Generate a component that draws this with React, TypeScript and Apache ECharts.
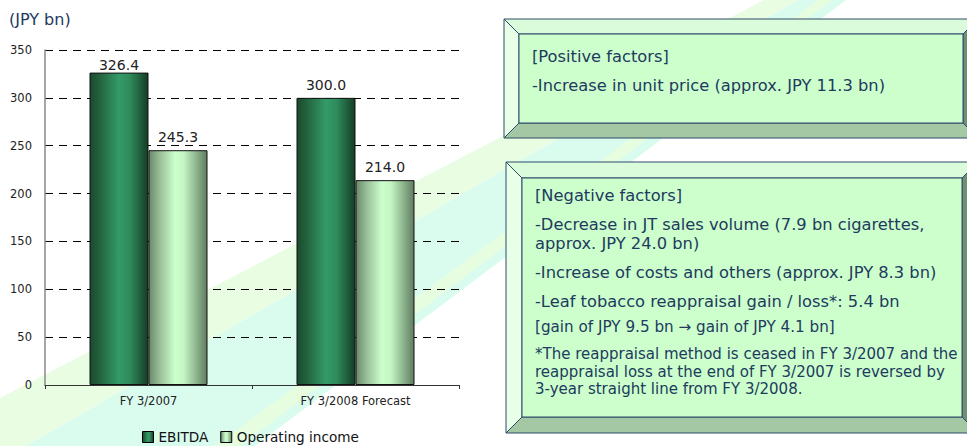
import React, { useEffect, useRef } from 'react';
import * as echarts from 'echarts';

const categories = ['FY 3/2007', 'FY 3/2008 Forecast'];
const seriesNames = ['EBITDA', 'Operating income'];
const ebitda = [326.4, 300.0];
const operatingIncome = [245.3, 214.0];
const yMin = 0;
const yMax = 350;
const yStep = 50;
const unitLabel = '(JPY bn)';

const positiveLines = [
  '[Positive factors]',
  '-Increase in unit price (approx. JPY 11.3 bn)',
];
const negativeLines = [
  '[Negative factors]',
  '-Decrease in JT sales volume (7.9 bn cigarettes,',
  'approx. JPY 24.0 bn)',
  '-Increase of costs and others (approx. JPY 8.3 bn)',
  '-Leaf tobacco reappraisal gain / loss*: 5.4 bn',
  '[gain of JPY 9.5 bn \u2192 gain of JPY 4.1 bn]',
  '*The reappraisal method is ceased in FY 3/2007 and the',
  'reappraisal loss at the end of FY 3/2007 is reversed by',
  '3-year straight line from FY 3/2008.',
];

const FONT = '"DejaVu Sans", Verdana, sans-serif';
const TEXT_COLOR = '#223a5e';
const OUTLINE = '#2e4a6b';

function bevelBox(x0: number, y0: number, x1: number, y1: number, b: number) {
  const stroke = { stroke: OUTLINE, lineWidth: 1 };
  const poly = (pts: number[][], fill: string) => ({
    type: 'polygon',
    z: 10,
    shape: { points: pts },
    style: { fill, ...stroke },
  });
  return [
    poly([[x0, y0], [x1, y0], [x1 - b, y0 + b], [x0 + b, y0 + b]], '#dafcda'),
    poly([[x0, y0], [x0 + b, y0 + b], [x0 + b, y1 - b], [x0, y1]], '#e8ffe8'),
    poly([[x0, y1], [x0 + b, y1 - b], [x1 - b, y1 - b], [x1, y1]], '#a4c8a4'),
    poly([[x1, y0], [x1, y1], [x1 - b, y1 - b], [x1 - b, y0 + b]], '#6e8f74'),
    {
      type: 'rect',
      z: 10,
      shape: { x: x0 + b, y: y0 + b, width: x1 - x0 - 2 * b, height: y1 - y0 - 2 * b },
      style: { fill: '#ccffcc', ...stroke },
    },
  ];
}

function textLine(text: string, x: number, y: number, size: number) {
  return {
    type: 'text',
    z: 11,
    x,
    y,
    style: {
      text,
      fill: TEXT_COLOR,
      fontSize: size,
      fontFamily: FONT,
      verticalAlign: 'middle',
      align: 'left',
    },
  };
}

export default function App() {
  const ref = useRef<HTMLDivElement>(null);

  useEffect(() => {
    if (!ref.current) return;
    const chart = echarts.init(ref.current, null, { renderer: 'svg' });

    const ebitdaGrad = new echarts.graphic.LinearGradient(0, 0, 1, 0, [
      { offset: 0, color: '#1a4a2e' },
      { offset: 0.15, color: '#22603c' },
      { offset: 0.5, color: '#349a68' },
      { offset: 0.68, color: '#2f8c5c' },
      { offset: 1, color: '#153d26' },
    ]);
    const opGrad = new echarts.graphic.LinearGradient(0, 0, 1, 0, [
      { offset: 0, color: '#6a8a6a' },
      { offset: 0.2, color: '#9cc29c' },
      { offset: 0.45, color: '#ccffcc' },
      { offset: 0.6, color: '#c4f5c4' },
      { offset: 1, color: '#5f7d60' },
    ]);

    const negSizes = [16.3, 16.3, 16.3, 16.3, 16.3, 15.2, 15, 15, 15];
    const negY = [195, 224, 243, 272, 301, 327, 354, 372, 389];

    const graphics: any[] = [
      {
        type: 'polygon',
        z: -5,
        silent: true,
        shape: { points: [[0, 398], [764, 0], [798, 0], [26, 446], [0, 446]] },
        style: { fill: '#e9fde3' },
      },
      {
        type: 'polygon',
        z: -5,
        silent: true,
        shape: { points: [[26, 446], [798, 0], [846, 0], [255, 446]] },
        style: { fill: '#dafcef' },
      },
      {
        type: 'polygon',
        z: -5,
        silent: true,
        shape: { points: [[215, 446], [240, 446], [832, 0], [818, 0]] },
        style: { fill: '#e6fde0' },
      },
      {
        type: 'text',
        z: 5,
        x: 9,
        y: 19,
        style: {
          text: unitLabel,
          fill: TEXT_COLOR,
          fontSize: 16,
          fontFamily: FONT,
          verticalAlign: 'middle',
        },
      },
      ...bevelBox(504, 19, 978, 138, 15),
      ...bevelBox(506, 162, 978, 433, 16),
      ...positiveLines.map((t, i) => textLine(t, 532, i === 0 ? 56 : 85, 16.3)),
      ...negativeLines.map((t, i) => textLine(t, 535, negY[i], negSizes[i])),
    ];

    chart.setOption({
      animation: false,
      backgroundColor: '#ffffff',
      textStyle: { fontFamily: FONT },
      grid: { left: 45, right: 508, top: 50, bottom: 61, containLabel: false },
      legend: {
        data: seriesNames,
        left: 142,
        top: 430,
        padding: 0,
        itemWidth: 11,
        itemHeight: 11,
        itemGap: 12,
        icon: 'rect',
        textStyle: { fontSize: 13.6, color: '#111', fontFamily: FONT },
        itemStyle: { borderColor: '#000', borderWidth: 1 },
      },
      xAxis: {
        type: 'category',
        data: categories,
        axisLine: { lineStyle: { color: '#333', width: 1 } },
        axisTick: { show: true, length: 4, lineStyle: { color: '#333' } },
        axisLabel: { fontSize: 11.5, color: '#222', margin: 10 },
        splitLine: { show: false },
      },
      yAxis: {
        type: 'value',
        min: yMin,
        max: yMax,
        interval: yStep,
        axisLine: { show: true, lineStyle: { color: '#8a8a8a', width: 1.5 } },
        axisTick: { show: false },
        axisLabel: { fontSize: 11.5, color: '#222', margin: 13 },
        splitLine: { show: true, lineStyle: { color: '#000', type: [8, 6], width: 1 } },
      },
      series: [
        {
          name: seriesNames[0],
          type: 'bar',
          barWidth: 59,
          barGap: '0%',
          data: ebitda.map((v, i) => (i === 0 ? { value: v, label: { distance: 1 } } : v)),
          itemStyle: { color: ebitdaGrad, borderColor: '#111', borderWidth: 1 },
          label: {
            show: true,
            position: 'top',
            distance: 6,
            fontSize: 14,
            color: '#222',
            formatter: (p: any) => Number(p.value).toFixed(1),
          },
        },
        {
          name: seriesNames[1],
          type: 'bar',
          barWidth: 59,
          barGap: '0%',
          data: operatingIncome,
          itemStyle: { color: opGrad, borderColor: '#111', borderWidth: 1 },
          label: {
            show: true,
            position: 'top',
            distance: 6,
            fontSize: 14,
            color: '#222',
            formatter: (p: any) => Number(p.value).toFixed(1),
          },
        },
      ],
      graphic: graphics,
    });

    return () => chart.dispose();
  }, []);

  return (
    <div
      ref={ref}
      style={{ position: 'fixed', left: 0, top: 0, width: 967, height: 446 }}
    />
  );
}
